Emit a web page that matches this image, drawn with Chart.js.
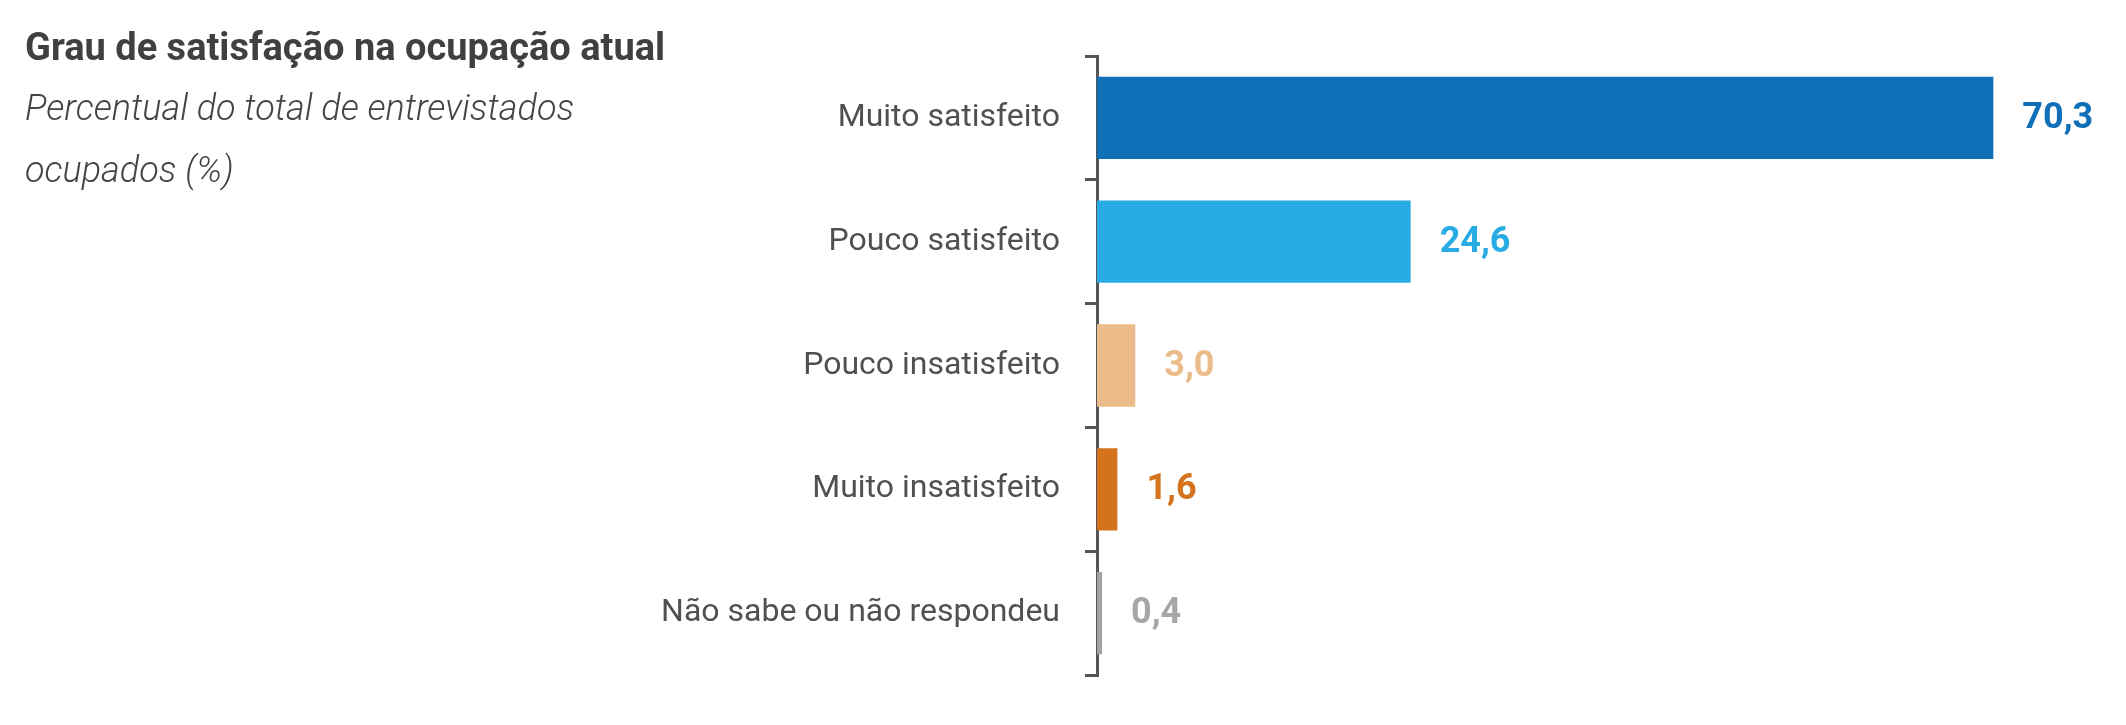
<!DOCTYPE html>
<html>
<head>
<meta charset="utf-8">
<script src="https://cdn.jsdelivr.net/npm/chart.js@4"></script>
<style>
  body { margin: 0; background: #fff; }
  #wrap { position: relative; width: 2126px; height: 725px; }
  #chart { position: absolute; left: 0; top: 0; }
  #title { position: absolute; left: 25px; top: 28px; font: bold 38px Roboto, sans-serif; line-height: 38px; color: #404040; white-space: nowrap; }
  #subtitle { position: absolute; left: 25px; top: 77px; width: 650px; font: italic 300 36px Roboto, sans-serif; line-height: 62px; color: #444; }
</style>
</head>
<body>
<div id="wrap">
  <canvas id="chart" width="2126" height="725"></canvas>
  <div id="title">Grau de satisfação na ocupação atual</div>
  <div id="subtitle">Percentual do total de entrevistados<br>ocupados (%)</div>
</div>
<script>
const categories = ["Muito satisfeito", "Pouco satisfeito", "Pouco insatisfeito", "Muito insatisfeito", "Não sabe ou não respondeu"];
const values = [70.3, 24.6, 3.0, 1.6, 0.4];
const barColors = ["#0f6fb7", "#29ace3", "#ecbb8a", "#d4731b", "#a3a3a3"];
const labelColors = ["#0f6fb7", "#29ace3", "#ecbb8a", "#d4731b", "#a6a6a6"];

const axisColor = "#555555";

// draws the value next to the end of each bar, comma as decimal mark
const valueLabels = {
    id: "valueLabels",
    afterDatasetsDraw(chart) {
        const ctx = chart.ctx;
        const meta = chart.getDatasetMeta(0);
        ctx.save();
        ctx.font = "bold 36px Roboto, sans-serif";
        ctx.textAlign = "left";
        ctx.textBaseline = "middle";
        meta.data.forEach((bar, i) => {
            ctx.fillStyle = labelColors[i];
            ctx.fillText(values[i].toFixed(1).replace(".", ","), bar.x + 29, bar.y + 1);
        });
        ctx.restore();
    }
};

new Chart(document.getElementById("chart"), {
    type: "bar",
    data: {
        labels: categories,
        datasets: [{
            data: values,
            backgroundColor: barColors,
            borderWidth: 0,
            barPercentage: 0.665,
            categoryPercentage: 1
        }]
    },
    options: {
        indexAxis: "y",
        responsive: false,
        animation: false,
        devicePixelRatio: 1,
        layout: { padding: { left: 0, right: 9, top: 56, bottom: 50 } },
        plugins: {
            legend: { display: false },
            tooltip: { enabled: false }
        },
        scales: {
            x: {
                display: false,
                min: 0,
                max: 80
            },
            y: {
                afterFit(scale) { scale.width = 1097; }, // axis line sits at x = 1097
                border: { display: true, color: axisColor, width: 3 },
                grid: {
                    offset: true,
                    drawOnChartArea: false,
                    drawTicks: true,
                    tickLength: 12,
                    color: axisColor,
                    lineWidth: 3
                },
                ticks: {
                    padding: 25,
                    color: "#505050",
                    font: { family: "Roboto, sans-serif", size: 32 }
                }
            }
        }
    },
    plugins: [valueLabels]
});
</script>
</body>
</html>
